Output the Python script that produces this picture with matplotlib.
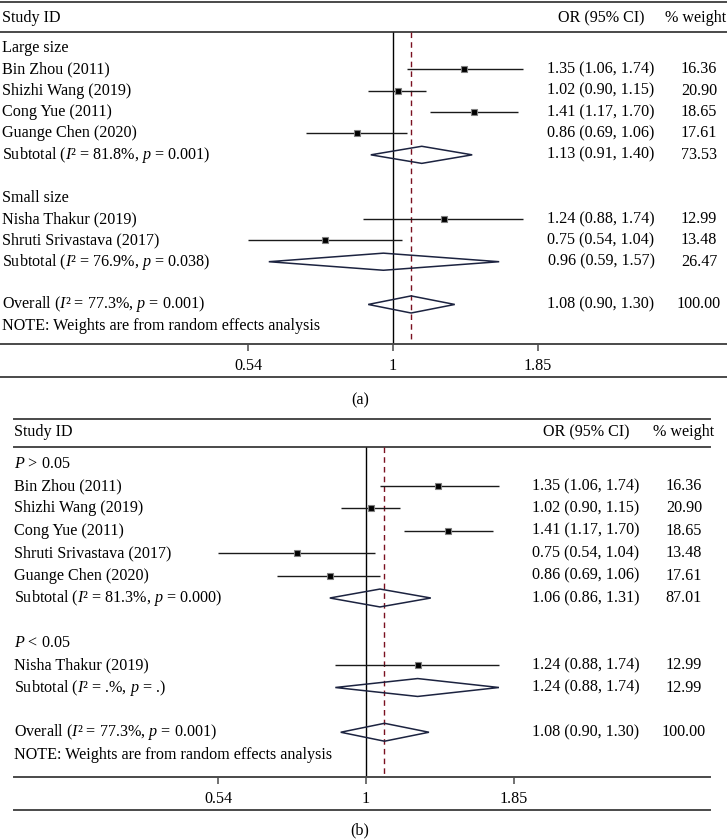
import numpy as np
import matplotlib
matplotlib.use("Agg")
import matplotlib.pyplot as plt
from matplotlib.patches import Polygon

plt.rcParams["font.family"] = "Liberation Serif"
plt.rcParams["mathtext.fontset"] = "custom"
plt.rcParams["mathtext.rm"] = "Liberation Serif"
plt.rcParams["mathtext.it"] = "Liberation Serif:italic"

W, H = 727, 839
FS = 11.6
LINE_COL = "#4a4a4a"

# ---- panel (a): subgroup by sample size
groups_a = ["Large size", "Small size"]
studies_a = [
    ["Bin Zhou (2011)", "Shizhi Wang (2019)", "Cong Yue (2011)", "Guange Chen (2020)"],
    ["Nisha Thakur (2019)", "Shruti Srivastava (2017)"],
]
or_a = [[1.35, 1.02, 1.41, 0.86], [1.24, 0.75]]
lo_a = [[1.06, 0.90, 1.17, 0.69], [0.88, 0.54]]
hi_a = [[1.74, 1.15, 1.70, 1.06], [1.74, 1.04]]
wt_a = [[16.36, 20.90, 18.65, 17.61], [12.99, 13.48]]
sub_or_a = [1.13, 0.96]
sub_lo_a = [0.91, 0.59]
sub_hi_a = [1.40, 1.57]
sub_wt_a = [73.53, 26.47]
sub_i2_a = ["81.8%", "76.9%"]
sub_p_a = ["0.001", "0.038"]

# ---- panel (b): subgroup by HWE p value
groups_b = ["$P$ > 0.05", "$P$ < 0.05"]
studies_b = [
    ["Bin Zhou (2011)", "Shizhi Wang (2019)", "Cong Yue (2011)",
     "Shruti Srivastava (2017)", "Guange Chen (2020)"],
    ["Nisha Thakur (2019)"],
]
or_b = [[1.35, 1.02, 1.41, 0.75, 0.86], [1.24]]
lo_b = [[1.06, 0.90, 1.17, 0.54, 0.69], [0.88]]
hi_b = [[1.74, 1.15, 1.70, 1.04, 1.06], [1.74]]
wt_b = [[16.36, 20.90, 18.65, 13.48, 17.61], [12.99]]
sub_or_b = [1.06, 1.24]
sub_lo_b = [0.86, 0.88]
sub_hi_b = [1.31, 1.74]
sub_wt_b = [87.01, 12.99]
sub_i2_b = ["81.3%", ".%"]
sub_p_b = ["0.000", "."]

# ---- pooled (same in both panels)
overall_or, overall_lo, overall_hi, overall_wt = 1.08, 0.90, 1.30, 100.00
overall_i2, overall_p = "77.3%", "0.001"

xticks = [0.54, 1, 1.85]
xtick_labels = ["0.54", "1", "1.85"]


def fmt_ci(o, l, h):
    return f"{o:.2f} ({l:.2f}, {h:.2f})"


def het_text(prefix, i2, p):
    return f"{prefix} ($I$\u00b2 = {i2}, $p$ = {p})"


def diamond(ax, o, l, h, r):
    ax.add_patch(Polygon([(l, r), (o, r - 0.4), (h, r), (o, r + 0.4)], closed=True,
                         facecolor="none", edgecolor="#1c2340", lw=1.1, zorder=4))


def forest(box, xlim, ytop, cols, groups, studies, ors, los, his, wts,
           s_or, s_lo, s_hi, s_wt, s_i2, s_p, caption):
    x0, x1, y0, y1 = box  # pixel box of plot region
    fig = plt.gcf()
    ax = fig.add_axes([x0 / W, 1 - y1 / H, (x1 - x0) / W, (y1 - y0) / H])
    ybot = ytop + 16
    ax.set_xscale("log")
    ax.set_xlim(*xlim)
    ax.set_ylim(ybot, ytop)
    ax.minorticks_off()
    ax.set_yticks([])
    ax.set_xticks(xticks)
    ax.set_xticklabels(xtick_labels, fontsize=FS)
    ax.tick_params(axis="x", direction="out", length=5, width=1.1, color=LINE_COL, pad=5)
    for s in ["left", "right"]:
        ax.spines[s].set_visible(False)
    for s in ["top", "bottom"]:
        ax.spines[s].set_color(LINE_COL)
        ax.spines[s].set_linewidth(1.4)

    px = lambda p: (p - x0) / (x1 - x0)
    tr = ax.get_yaxis_transform()  # x in axes fraction, y in data
    lbl_x, or_x, wt_x, wh_x = px(cols[0]), px(cols[1]), px(cols[2]), px(cols[3])

    hdr = -0.75
    ax.plot([0, 1], [hdr, hdr], transform=tr, color=LINE_COL, lw=1.4, clip_on=False)
    ax.text(lbl_x, -1.4, "Study ID", transform=tr, fontsize=FS, va="center", ha="left")
    ax.text(or_x, -1.4, "OR (95% CI)", transform=tr, fontsize=FS, va="center", ha="center")
    ax.text(wh_x, -1.4, "% weight", transform=tr, fontsize=FS, va="center", ha="center")

    ax.vlines(1, hdr, ybot, color="black", lw=1.0, zorder=2)
    ax.vlines(overall_or, hdr, ybot, color="#7a1020", lw=1.0, linestyles=(0, (4, 3)), zorder=2)

    r = 0
    for g in range(len(groups)):
        ax.text(lbl_x, r, groups[g], transform=tr, fontsize=FS, va="center")
        r += 1
        for k in range(len(studies[g])):
            ax.hlines(r, los[g][k], his[g][k], color="#1a1a1a", lw=1.0, zorder=3)
            ax.plot(ors[g][k], r, marker="s", ms=4.6, mfc="black", mec="#808080",
                    mew=0.8, ls="none", zorder=5)
            ax.text(lbl_x, r, studies[g][k], transform=tr, fontsize=FS, va="center")
            ax.text(or_x, r, fmt_ci(ors[g][k], los[g][k], his[g][k]), transform=tr,
                    fontsize=FS, va="center", ha="center")
            ax.text(wt_x, r, f"{wts[g][k]:.2f}", transform=tr, fontsize=FS,
                    va="center", ha="center")
            r += 1
        diamond(ax, s_or[g], s_lo[g], s_hi[g], r)
        ax.text(lbl_x, r, het_text("Subtotal", s_i2[g], s_p[g]), transform=tr,
                fontsize=FS, va="center")
        ax.text(or_x, r, fmt_ci(s_or[g], s_lo[g], s_hi[g]), transform=tr, fontsize=FS,
                va="center", ha="center")
        ax.text(wt_x, r, f"{s_wt[g]:.2f}", transform=tr, fontsize=FS, va="center", ha="center")
        r += 2

    diamond(ax, overall_or, overall_lo, overall_hi, r)
    ax.text(lbl_x, r, het_text("Overall", overall_i2, overall_p), transform=tr,
            fontsize=FS, va="center")
    ax.text(or_x, r, fmt_ci(overall_or, overall_lo, overall_hi), transform=tr, fontsize=FS,
            va="center", ha="center")
    ax.text(wt_x, r, f"{overall_wt:.2f}", transform=tr, fontsize=FS, va="center", ha="center")
    ax.text(lbl_x, r + 1, "NOTE: Weights are from random effects analysis", transform=tr,
            fontsize=FS, va="center")

    # closing rule under the tick labels
    yb = -33 / (y1 - y0)
    ax.plot([0, 1], [yb, yb], transform=ax.transAxes, color=LINE_COL, lw=1.4, clip_on=False)
    fig.text(360 / W, 1 - caption[1] / H, caption[0], fontsize=FS, ha="center", va="center")
    return ax


fig = plt.figure(figsize=(W / 100, H / 100), dpi=100)

# panel (a): 1 sits at x=393 px, ~235 px per ln-unit
forest((0, 727, 2, 344), (np.exp(-393 / 235.4), np.exp(334 / 235.4)), -2.15,
       (2, 601, 699, 696), groups_a, studies_a, or_a, lo_a, hi_a, wt_a,
       sub_or_a, sub_lo_a, sub_hi_a, sub_wt_a, sub_i2_a, sub_p_a, ("(a)", 400))

# panel (b): 1 sits at x=366 px, ~240 px per ln-unit
forest((14, 710, 419, 777), (np.exp(-352 / 240.0), np.exp(344 / 240.0)), -2.0,
       (14, 586, 684, 684), groups_b, studies_b, or_b, lo_b, hi_b, wt_b,
       sub_or_b, sub_lo_b, sub_hi_b, sub_wt_b, sub_i2_b, sub_p_b, ("(b)", 830))

fig.savefig("out.png", dpi=100)
